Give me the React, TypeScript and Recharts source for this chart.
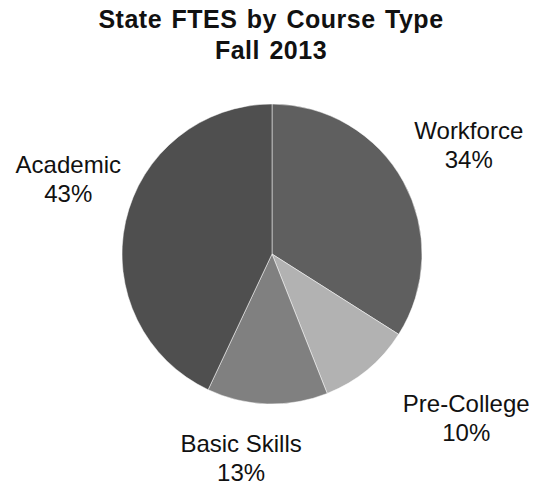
import React from 'react'
import { PieChart, Pie, Cell } from 'recharts'

// course types, clockwise from 12 o'clock
const courseTypes = ['Workforce', 'Pre-College', 'Basic Skills', 'Academic']
const ftesShare = [34, 10, 13, 43]
const sliceColors = ['#5f5f5f', '#b2b2b2', '#808080', '#4f4f4f']

const titleLines = ['State FTES by Course Type', 'Fall 2013']

const W = 530
const H = 476
const FONT = '"Liberation Sans", Arial, Helvetica, sans-serif'

// label placement tweaks (px), like Excel's "best fit"
const labelNudge: Record<string, [number, number]> = {
  Workforce: [4, -9],
  'Pre-College': [54, -12],
  'Basic Skills': [-24, -22],
  Academic: [11, -33],
}

const RADIAN = Math.PI / 180

const renderLabel = (props: any) => {
  const { cx, cy, midAngle, outerRadius, name, value } = props
  const r = outerRadius + 70
  const [nx, ny] = labelNudge[name] ?? [0, 0]
  const x = cx + r * Math.cos(-midAngle * RADIAN) + nx
  const y = cy + r * Math.sin(-midAngle * RADIAN) + ny
  return (
    <text
      x={x}
      y={y}
      textAnchor="middle"
      fill="#111"
      fontFamily={FONT}
      fontSize={24}
    >
      <tspan x={x} dy={0}>
        {name}
      </tspan>
      <tspan x={x} dy={29}>
        {`${value}%`}
      </tspan>
    </text>
  )
}

export default function App() {
  const data = courseTypes.map((name, i) => ({ name, value: ftesShare[i] }))

  return (
    <div style={{ position: 'relative', width: W, height: H }}>
      <PieChart width={W} height={H} margin={{ top: 0, right: 0, bottom: 0, left: 0 }}>
        <Pie
          data={data}
          dataKey="value"
          nameKey="name"
          cx={264}
          cy={246}
          outerRadius={150}
          startAngle={90}
          endAngle={-270}
          stroke="#ffffff"
          strokeWidth={0.5}
          label={renderLabel}
          labelLine={false}
          isAnimationActive={false}
        >
          {data.map((d, i) => (
            <Cell key={d.name} fill={sliceColors[i]} />
          ))}
        </Pie>
      </PieChart>
      <svg
        width={W}
        height={70}
        style={{
          position: 'absolute',
          left: 0,
          top: 0,
          overflow: 'visible',
          pointerEvents: 'none',
        }}
      >
        {titleLines.map((t, i) => (
          <text
            key={t}
            x={263}
            y={20 + i * 31}
            textAnchor="middle"
            fontFamily={FONT}
            fontWeight="bold"
            fontSize={25}
            letterSpacing={0.5}
            wordSpacing={2}
            fill="#111"
          >
            {t}
          </text>
        ))}
      </svg>
    </div>
  )
}
